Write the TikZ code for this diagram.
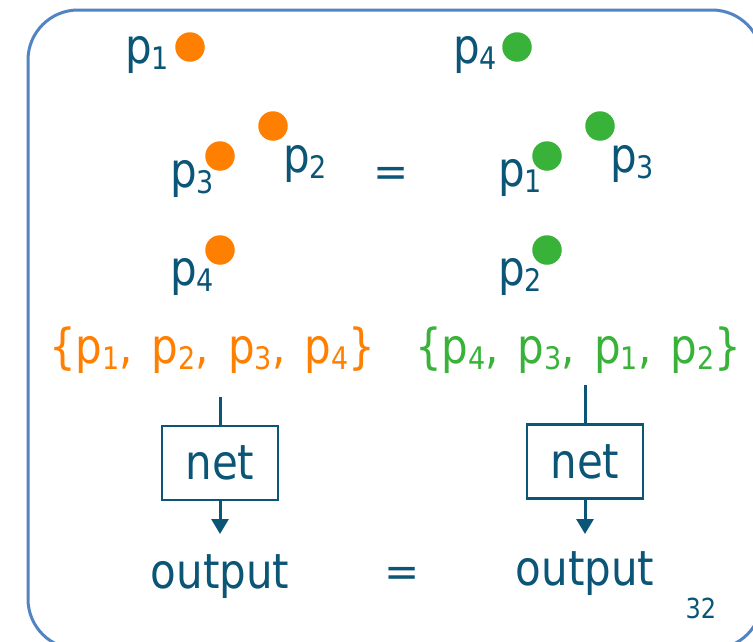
\documentclass[tikz,border=0pt]{standalone}
\usepackage{fontspec}
\setmainfont{DejaVu Sans}
\usetikzlibrary{arrows.meta}
\definecolor{ink}{HTML}{0B5577}
\definecolor{orng}{HTML}{FF7F00}
\definecolor{grn}{HTML}{38B238}
\definecolor{frame}{HTML}{5283C2}
\newcommand{\pidx}[1]{\raisebox{-6pt}{\fontsize{27}{27}\selectfont #1}}
\newcommand{\pp}[1]{p\pidx{#1}}
\newcommand{\tallt}[1]{\scalebox{1}[1.15]{#1}}
\newcommand{\gap}{\hspace{19pt}}
\begin{document}
\begin{tikzpicture}[x=1pt,y=-1pt,
  dot/.style={circle, inner sep=0pt, minimum size=29.5pt},
  odot/.style={dot, fill=orng},
  gdot/.style={dot, fill=grn},
  big/.style={inner sep=0pt, text=ink, font=\fontsize{42}{50}\selectfont},
  lbl/.style={big, anchor=base west},
  setlbl/.style={inner sep=0pt, anchor=base, font=\fontsize{42}{50}\selectfont},
  netbox/.style={draw=ink, line width=2.8pt, minimum width=116pt, minimum height=74pt, inner sep=0pt, text=ink, font=\fontsize{42}{50}\selectfont},
  conn/.style={draw=ink, line width=3pt},
  arr/.style={conn, -{Triangle[width=17pt,length=15pt]}}]
\useasboundingbox (0,0) rectangle (753,641);
\draw[frame, line width=3pt, rounded corners=50pt] (28,10) rectangle (762,649);

% left group (orange)
\node[odot] (o1) at (190,47) {};
\node[odot] (o2) at (273,126) {};
\node[odot] (o3) at (220,156) {};
\node[odot] (o4) at (220,250) {};
\node[lbl] (lo1) at (125,63) {\tallt{\pp{1}}};
\node[lbl] (lo2) at (283,172) {\tallt{\pp{2}}};
\node[lbl] (lo3) at (170,187) {\tallt{\pp{3}}};
\node[lbl] (lo4) at (170,285) {\tallt{\pp{4}}};

% right group (green)
\node[gdot] (g4) at (517,47) {};
\node[gdot] (g3) at (600,126) {};
\node[gdot] (g1) at (547,156) {};
\node[gdot] (g2) at (547,250) {};
\node[lbl] (lg4) at (453,63) {\tallt{\pp{4}}};
\node[lbl] (lg3) at (610,172) {\tallt{\pp{3}}};
\node[lbl] (lg1) at (498,186) {\tallt{\pp{1}}};
\node[lbl] (lg2) at (498,285) {\tallt{\pp{2}}};

\node[big, anchor=center] (eq1) at (391,177) {=};
\node[big, anchor=center] (eq2) at (402,577) {=};

% sets
\node[setlbl, text=orng] (setL) at (212,363) {\tallt{\{\pp{1},\gap\pp{2},\gap\pp{3},\gap\pp{4}\}}};
\node[setlbl, text=grn] (setR) at (578,363) {\tallt{\{\pp{4},\gap\pp{3},\gap\pp{1},\gap\pp{2}\}}};

% nets
\node[netbox] (netL) at (220,463) {\tallt{net}};
\node[netbox] (netR) at (585,461.5) {\tallt{net}};
\coordinate (inL) at (220,397);
\coordinate (inR) at (585,385);
\coordinate (tipL) at (220,534);
\coordinate (tipR) at (585,534);
\draw[conn] (inL) -- (netL.north);
\draw[conn] (inR) -- (netR.north);
\draw[arr] (netL.south) -- (tipL);
\draw[arr] (netR.south) -- (tipR);

\node[big, anchor=base] (outL) at (220,588) {\tallt{output}};
\node[big, anchor=base] (outR) at (585,585) {\tallt{output}};
\node[inner sep=0pt, anchor=base, text=ink, font=\fontsize{24}{28}\selectfont] (pg) at (701,618) {\tallt{32}};
\end{tikzpicture}
\end{document}
